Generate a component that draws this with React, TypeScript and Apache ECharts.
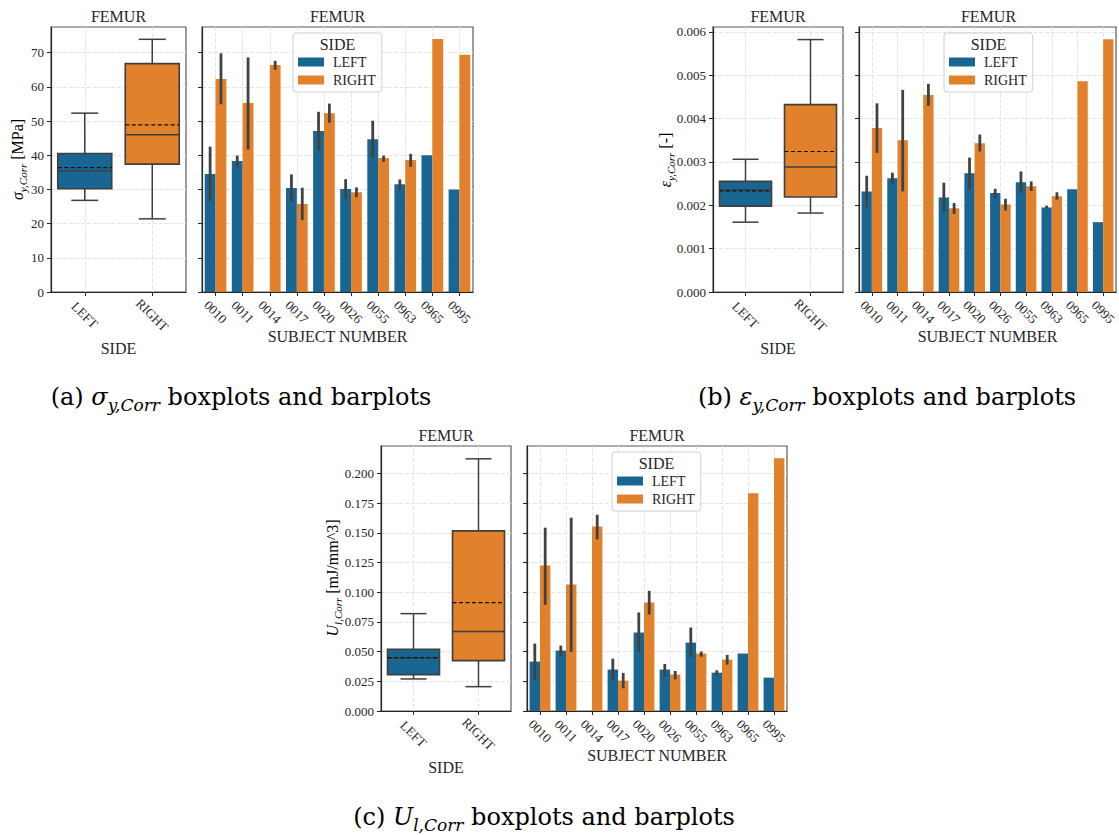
import React, { useEffect, useRef } from "react";
import * as echarts from "echarts";

const SUBJECTS = ["0010", "0011", "0014", "0017", "0020", "0026", "0055", "0963", "0965", "0995"];
const SIDES = ["LEFT", "RIGHT"];

// (a) sigma_y,Corr [MPa]
const SIGMA_LEFT = [34.5, 38.3, null, 30.4, 47.1, 30.1, 44.7, 31.5, 40.0, 30.0];
const SIGMA_LEFT_LO = [26.6, 36.4, null, 26.4, 41.3, 27.2, 39.3, 30.0, null, null];
const SIGMA_LEFT_HI = [42.5, 39.9, null, 34.4, 52.7, 33.0, 50.1, 32.9, null, null];
const SIGMA_RIGHT = [62.3, 55.3, 66.4, 25.7, 52.3, 29.2, 39.2, 38.6, 74.0, 69.4];
const SIGMA_RIGHT_LO = [54.9, 41.7, 65.0, 21.0, 49.5, 27.7, 38.1, 36.6, null, null];
const SIGMA_RIGHT_HI = [69.8, 68.6, 67.6, 30.5, 55.1, 30.6, 39.9, 40.4, null, null];
// box stats: [min, q1, median, q3, max, mean]
const SIGMA_BOX_LEFT = [26.8, 30.2, 35.4, 40.5, 52.3, 36.4];
const SIGMA_BOX_RIGHT = [21.4, 37.4, 46.0, 66.8, 73.9, 48.9];
const SIGMA_TICKS = [0, 10, 20, 30, 40, 50, 60, 70];

// (b) epsilon_y,Corr [-]
const EPS_LEFT = [0.00232, 0.00262, null, 0.00218, 0.00274, 0.00228, 0.00253, 0.00195, 0.00237, 0.00161];
const EPS_LEFT_LO = [0.00196, 0.0025, null, 0.00186, 0.00237, 0.00217, 0.00228, 0.00192, null, null];
const EPS_LEFT_HI = [0.00268, 0.00275, null, 0.00252, 0.0031, 0.00238, 0.00278, 0.00199, null, null];
const EPS_RIGHT = [0.00378, 0.0035, 0.00454, 0.00193, 0.00343, 0.00202, 0.00244, 0.00221, 0.00486, 0.00583];
const EPS_RIGHT_LO = [0.00321, 0.00232, 0.00429, 0.0018, 0.00324, 0.00188, 0.00233, 0.00213, null, null];
const EPS_RIGHT_HI = [0.00435, 0.00466, 0.0048, 0.00205, 0.00363, 0.00215, 0.00255, 0.0023, null, null];
const EPS_BOX_LEFT = [0.00161, 0.00198, 0.00235, 0.00255, 0.00306, 0.00233];
const EPS_BOX_RIGHT = [0.00182, 0.00219, 0.00288, 0.00432, 0.00582, 0.00324];
const EPS_TICKS = [0, 0.001, 0.002, 0.003, 0.004, 0.005, 0.006];

// (c) U_l,Corr [mJ/mm^3]
const U_LEFT = [0.0416, 0.0509, null, 0.0349, 0.0661, 0.0349, 0.0576, 0.0323, 0.0484, 0.0281];
const U_LEFT_LO = [0.0262, 0.0458, null, 0.0256, 0.0498, 0.0292, 0.0453, 0.0295, null, null];
const U_LEFT_HI = [0.0568, 0.0551, null, 0.0441, 0.083, 0.0396, 0.0703, 0.0343, null, null];
const U_RIGHT = [0.1226, 0.1066, 0.1555, 0.0256, 0.0914, 0.0307, 0.0484, 0.0433, 0.1834, 0.2129];
const U_RIGHT_LO = [0.0894, 0.0498, 0.1445, 0.0191, 0.0813, 0.0267, 0.0458, 0.0391, null, null];
const U_RIGHT_HI = [0.1544, 0.1628, 0.1653, 0.0321, 0.1012, 0.0337, 0.0501, 0.0472, null, null];
const U_BOX_LEFT = [0.027, 0.0306, 0.0447, 0.052, 0.082, 0.0449];
const U_BOX_RIGHT = [0.0205, 0.0424, 0.0669, 0.1517, 0.2124, 0.0913];
const U_TICKS = [0, 0.025, 0.05, 0.075, 0.1, 0.125, 0.15, 0.175, 0.2];

const FONT = '"Liberation Serif", "DejaVu Serif", serif';
const CAP_FONT = '"DejaVu Serif", "Liberation Serif", serif';
const TXT = "#262626";
const AXIS = "#262626";
const GRIDLINE = "#e4e4e4";
const BLUE = "#1a6692";
const ORANGE = "#e1812c";
const EDGE = "#3f3f3f";

type Panel = {
  box: number[];
  bar: number[];
  max: number;
  interval: number;
  decimals: number;
  ticks: number[];
  boxLeft: number[];
  boxRight: number[];
  left: (number | null)[];
  leftLo: (number | null)[];
  leftHi: (number | null)[];
  right: (number | null)[];
  rightLo: (number | null)[];
  rightHi: (number | null)[];
  legend: number[];
  ylabel: string;
  ylabelPos: number[];
  caption: string;
  captionPos: number[];
  titleY: number;
};

const PANELS: Panel[] = [
  {
    box: [51, 27, 135, 265],
    bar: [202, 27, 271, 265],
    max: 77.5,
    interval: 10,
    decimals: 0,
    ticks: SIGMA_TICKS,
    boxLeft: SIGMA_BOX_LEFT,
    boxRight: SIGMA_BOX_RIGHT,
    left: SIGMA_LEFT,
    leftLo: SIGMA_LEFT_LO,
    leftHi: SIGMA_LEFT_HI,
    right: SIGMA_RIGHT,
    rightLo: SIGMA_RIGHT_LO,
    rightHi: SIGMA_RIGHT_HI,
    legend: [293, 33],
    ylabel: "{i|σ}{s|y,Corr}{n| [MPa]}",
    ylabelPos: [17, 159.5],
    caption: "{n|(a) }{i|σ}{s|y,Corr}{n| boxplots and barplots}",
    captionPos: [241, 397],
    titleY: 16,
  },
  {
    box: [713, 27, 130, 265],
    bar: [859, 27, 259, 265],
    max: 0.00611,
    interval: 0.001,
    decimals: 3,
    ticks: EPS_TICKS,
    boxLeft: EPS_BOX_LEFT,
    boxRight: EPS_BOX_RIGHT,
    left: EPS_LEFT,
    leftLo: EPS_LEFT_LO,
    leftHi: EPS_LEFT_HI,
    right: EPS_RIGHT,
    rightLo: EPS_RIGHT_LO,
    rightHi: EPS_RIGHT_HI,
    legend: [944, 33],
    ylabel: "{i|ε}{s|y,Corr}{n| [-]}",
    ylabelPos: [665, 160],
    caption: "{n|(b) }{i|ε}{s|y,Corr}{n| boxplots and barplots}",
    captionPos: [887, 397],
    titleY: 16,
  },
  {
    box: [381, 446, 130, 265],
    bar: [527, 446, 260, 265],
    max: 0.2232,
    interval: 0.025,
    decimals: 3,
    ticks: U_TICKS,
    boxLeft: U_BOX_LEFT,
    boxRight: U_BOX_RIGHT,
    left: U_LEFT,
    leftLo: U_LEFT_LO,
    leftHi: U_LEFT_HI,
    right: U_RIGHT,
    rightLo: U_RIGHT_LO,
    rightHi: U_RIGHT_HI,
    legend: [612, 452],
    ylabel: "{i|U}{s|l,Corr}{n| [mJ/mm^3]}",
    ylabelPos: [332, 578],
    caption: "{n|(c) }{i|U}{s|l,Corr}{n| boxplots and barplots}",
    captionPos: [544, 817],
    titleY: 435,
  },
];

function boxRender(params: any, api: any) {
  const cat = api.value(0);
  const mn = api.value(1);
  const q1 = api.value(2);
  const md = api.value(3);
  const q3 = api.value(4);
  const mx = api.value(5);
  const mean = api.value(6);
  const band = api.size([1, 0])[0];
  const w = band * 0.8;
  const cw = w / 2;
  const x = api.coord([cat, md])[0];
  const y = (v: number) => api.coord([cat, v])[1];
  const color = cat === 0 ? BLUE : ORANGE;
  const ls = { stroke: EDGE, lineWidth: 1.5 };
  return {
    type: "group",
    children: [
      { type: "line", shape: { x1: x, y1: y(q3), x2: x, y2: y(mx) }, style: ls },
      { type: "line", shape: { x1: x - cw / 2, y1: y(mx), x2: x + cw / 2, y2: y(mx) }, style: ls },
      { type: "line", shape: { x1: x, y1: y(q1), x2: x, y2: y(mn) }, style: ls },
      { type: "line", shape: { x1: x - cw / 2, y1: y(mn), x2: x + cw / 2, y2: y(mn) }, style: ls },
      {
        type: "rect",
        shape: { x: x - w / 2, y: y(q3), width: w, height: y(q1) - y(q3) },
        style: { fill: color, stroke: EDGE, lineWidth: 1.6 },
      },
      { type: "line", shape: { x1: x - w / 2, y1: y(md), x2: x + w / 2, y2: y(md) }, style: ls },
      {
        type: "line",
        shape: { x1: x - w / 2, y1: y(mean), x2: x + w / 2, y2: y(mean) },
        style: { stroke: "#111", lineWidth: 1.2, lineDash: [4, 2.5] },
      },
    ],
  };
}

function errRender(params: any, api: any) {
  const c = api.value(0);
  const lo = api.value(1);
  const hi = api.value(2);
  const side = api.value(3);
  const band = api.size([1, 0])[0];
  const p1 = api.coord([c, lo]);
  const p2 = api.coord([c, hi]);
  const x = p1[0] + (side === 0 ? -1 : 1) * band * 0.2;
  return {
    type: "line",
    shape: { x1: x, y1: p1[1], x2: x, y2: p2[1] },
    style: { stroke: "#424242", lineWidth: 2.8 },
  };
}

function catAxis(gi: number, data: string[], name: string, nameGap: number, margin: number) {
  return {
    type: "category",
    gridIndex: gi,
    data,
    boundaryGap: true,
    name,
    nameLocation: "middle",
    nameGap,
    nameTextStyle: { fontFamily: FONT, fontSize: 16, color: TXT },
    axisLine: { show: true, lineStyle: { color: AXIS, width: 1.2 } },
    axisTick: { show: true, alignWithLabel: true, length: 4, lineStyle: { color: AXIS, width: 1 } },
    axisLabel: {
      rotate: -45,
      align: "center",
      verticalAlign: "middle",
      margin,
      fontFamily: FONT,
      fontSize: 13,
      color: TXT,
      interval: 0,
    },
    splitLine: { show: true, alignWithLabel: true, lineStyle: { color: GRIDLINE, type: "dashed", width: 1 } },
  };
}

function valAxis(gi: number, P: Panel, labels: boolean) {
  return {
    type: "value",
    gridIndex: gi,
    min: 0,
    max: P.max,
    interval: P.interval,
    axisLine: { show: true, lineStyle: { color: AXIS, width: 1.2 } },
    axisTick: { show: true, length: 4, lineStyle: { color: AXIS, width: 1 }, customValues: P.ticks },
    axisLabel: {
      show: labels,
      customValues: P.ticks,
      margin: 7,
      fontFamily: FONT,
      fontSize: 13,
      color: TXT,
      formatter: (v: number) => v.toFixed(P.decimals),
    },
    splitLine: { show: true, lineStyle: { color: GRIDLINE, type: "dashed", width: 1 } },
  };
}

const RICH_Y = {
  i: { fontFamily: FONT, fontStyle: "italic", fontSize: 16, lineHeight: 22, color: TXT, verticalAlign: "middle" },
  s: { fontFamily: FONT, fontStyle: "italic", fontSize: 11, lineHeight: 12, color: TXT, verticalAlign: "bottom" },
  n: { fontFamily: FONT, fontSize: 16, lineHeight: 22, color: TXT, verticalAlign: "middle" },
};

const RICH_CAP = {
  i: { fontFamily: CAP_FONT, fontStyle: "italic", fontSize: 24, lineHeight: 32, color: "#111", verticalAlign: "middle" },
  s: { fontFamily: CAP_FONT, fontStyle: "italic", fontSize: 17, lineHeight: 18, color: "#111", verticalAlign: "bottom" },
  n: { fontFamily: CAP_FONT, fontSize: 24, lineHeight: 32, color: "#111", verticalAlign: "middle" },
};

function buildOption() {
  const grids: any[] = [];
  const xAxes: any[] = [];
  const yAxes: any[] = [];
  const series: any[] = [];
  const legends: any[] = [];
  const graphics: any[] = [];

  PANELS.forEach((P, p) => {
    const gi = p * 2;
    const mkGrid = (g: number[]) => ({
      left: g[0],
      top: g[1],
      width: g[2],
      height: g[3],
      show: true,
      borderColor: "#5a5a5a",
      borderWidth: 1.2,
      backgroundColor: "transparent",
    });
    grids.push(mkGrid(P.box));
    grids.push(mkGrid(P.bar));
    xAxes.push(catAxis(gi, SIDES, "SIDE", 48, 23));
    xAxes.push(catAxis(gi + 1, SUBJECTS, "SUBJECT NUMBER", 35, 20));
    yAxes.push(valAxis(gi, P, true));
    yAxes.push(valAxis(gi + 1, P, false));

    series.push({
      type: "custom",
      name: "box",
      xAxisIndex: gi,
      yAxisIndex: gi,
      renderItem: boxRender,
      encode: { x: 0, y: [1, 2, 3, 4, 5, 6] },
      data: [
        [0, ...P.boxLeft],
        [1, ...P.boxRight],
      ],
      z: 3,
      silent: true,
    });
    series.push({
      type: "bar",
      name: "LEFT",
      xAxisIndex: gi + 1,
      yAxisIndex: gi + 1,
      data: P.left,
      barWidth: "40%",
      barGap: "0%",
      itemStyle: { color: BLUE },
      silent: true,
    });
    series.push({
      type: "bar",
      name: "RIGHT",
      xAxisIndex: gi + 1,
      yAxisIndex: gi + 1,
      data: P.right,
      barWidth: "40%",
      barGap: "0%",
      itemStyle: { color: ORANGE },
      silent: true,
    });
    const err: number[][] = [];
    SUBJECTS.forEach((_, i) => {
      const ll = P.leftLo[i];
      const lh = P.leftHi[i];
      const rl = P.rightLo[i];
      const rh = P.rightHi[i];
      if (ll != null && lh != null) err.push([i, ll, lh, 0]);
      if (rl != null && rh != null) err.push([i, rl, rh, 1]);
    });
    series.push({
      type: "custom",
      name: "err",
      xAxisIndex: gi + 1,
      yAxisIndex: gi + 1,
      renderItem: errRender,
      encode: { x: 0, y: [1, 2] },
      data: err,
      z: 5,
      silent: true,
    });

    legends.push({
      orient: "vertical",
      left: P.legend[0],
      top: P.legend[1],
      data: ["LEFT", "RIGHT"],
      icon: "rect",
      itemWidth: 26,
      itemHeight: 9,
      itemGap: 4,
      padding: [22, 6, 5, 5],
      borderColor: "#d0d0d0",
      borderWidth: 1,
      borderRadius: 3,
      backgroundColor: "rgba(255,255,255,0.85)",
      textStyle: { fontFamily: FONT, fontSize: 14, color: TXT, lineHeight: 14, padding: [0, 0, 0, 4] },
      selectedMode: false,
      z: 10,
    });

    const titleStyle = { fontFamily: FONT, fontSize: 16, fill: TXT, align: "center", verticalAlign: "middle" };
    graphics.push({
      type: "text",
      x: P.box[0] + P.box[2] / 2,
      y: P.titleY,
      style: { text: "FEMUR", ...titleStyle },
    });
    graphics.push({
      type: "text",
      x: P.bar[0] + P.bar[2] / 2,
      y: P.titleY,
      style: { text: "FEMUR", ...titleStyle },
    });
    graphics.push({
      type: "text",
      x: P.legend[0] + 44.5,
      y: P.legend[1] + 11,
      z: 100,
      style: { text: "SIDE", ...titleStyle },
    });
    graphics.push({
      type: "text",
      x: P.ylabelPos[0],
      y: P.ylabelPos[1],
      rotation: Math.PI / 2,
      style: { text: P.ylabel, rich: RICH_Y, align: "center", verticalAlign: "middle" },
    });
    graphics.push({
      type: "text",
      x: P.captionPos[0],
      y: P.captionPos[1],
      style: { text: P.caption, rich: RICH_CAP, align: "center", verticalAlign: "middle" },
    });
  });

  return {
    animation: false,
    backgroundColor: "#ffffff",
    textStyle: { fontFamily: FONT },
    grid: grids,
    xAxis: xAxes,
    yAxis: yAxes,
    legend: legends,
    series,
    graphic: { elements: graphics },
  };
}

export default function App() {
  const ref = useRef<HTMLDivElement>(null);
  useEffect(() => {
    if (!ref.current) return;
    const chart = echarts.init(ref.current, undefined, { renderer: "svg" });
    chart.setOption(buildOption() as any);
    return () => chart.dispose();
  }, []);
  return (
    <div
      ref={ref}
      style={{ position: "absolute", left: 0, top: 0, width: 1119, height: 835, background: "#fff" }}
    />
  );
}
